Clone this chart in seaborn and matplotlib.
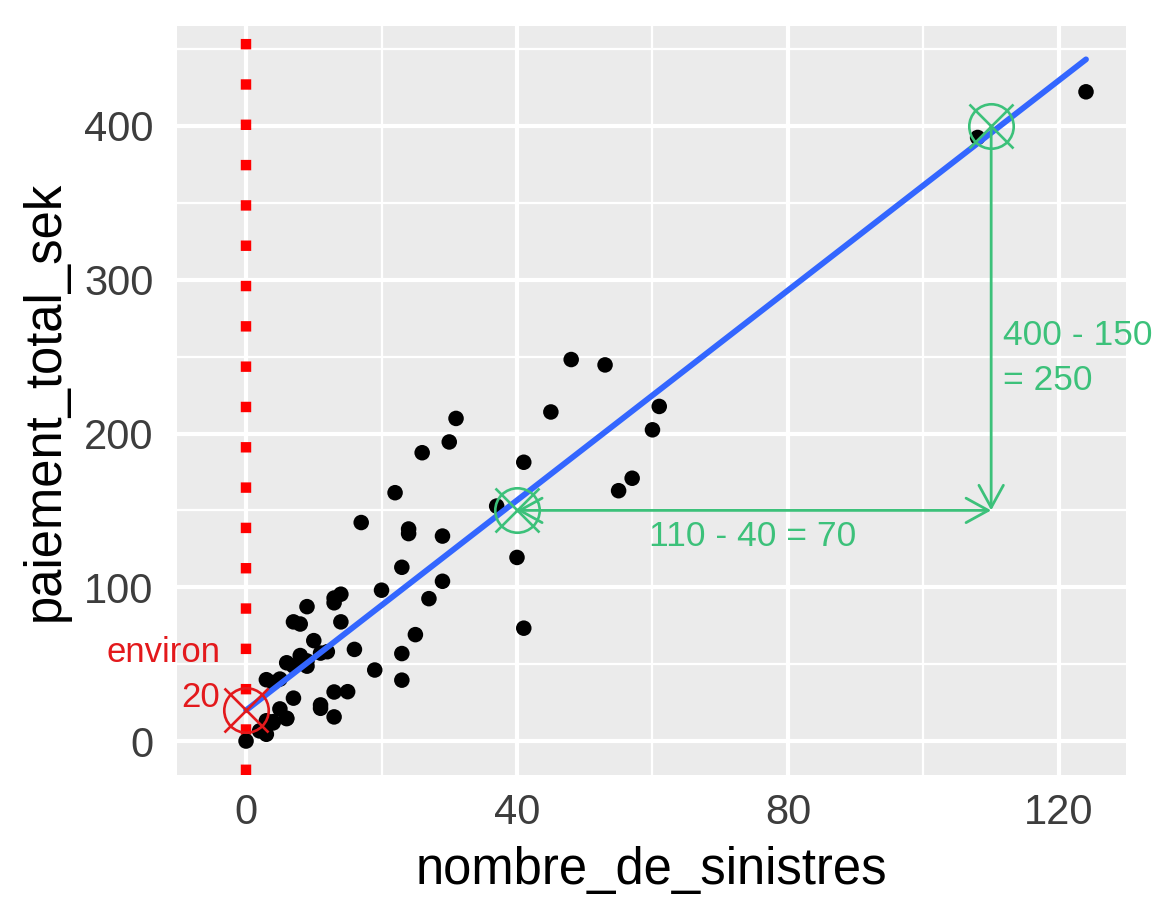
import numpy as np
import pandas as pd
import seaborn as sns
import matplotlib.pyplot as plt
from matplotlib.ticker import MultipleLocator

# Swedish auto insurance data (claims vs total payment, kSEK)
nombre_de_sinistres = [108, 19, 13, 124, 40, 57, 23, 14, 45, 10, 5, 48, 11, 23, 7, 2, 24, 6, 3, 23,
                       6, 9, 9, 3, 29, 7, 4, 20, 7, 4, 0, 25, 6, 5, 22, 11, 61, 12, 4, 16, 13, 60,
                       41, 37, 55, 41, 11, 27, 8, 3, 17, 13, 13, 15, 8, 29, 30, 24, 9, 31, 14, 53, 26]
paiement_total_sek = [392.5, 46.2, 15.7, 422.2, 119.4, 170.9, 56.9, 77.5, 214.0, 65.3, 20.9, 248.1,
                      23.5, 39.6, 48.8, 6.6, 134.9, 50.9, 4.4, 113.0, 14.8, 48.7, 52.1, 13.2, 103.9,
                      77.5, 11.8, 98.1, 27.9, 38.1, 0.0, 69.2, 14.6, 40.3, 161.5, 57.2, 217.6, 58.1,
                      12.6, 59.6, 89.9, 202.4, 181.3, 152.8, 162.8, 73.4, 21.3, 92.6, 76.1, 39.9,
                      142.1, 93.0, 31.9, 32.1, 55.6, 133.3, 194.5, 137.9, 87.4, 209.8, 95.5, 244.6, 187.5]

df = pd.DataFrame({'nombre_de_sinistres': nombre_de_sinistres,
                   'paiement_total_sek': paiement_total_sek})

# annotation points
red_pt = (0, 20)
green_pts_x = [40, 110]
green_pts_y = [150, 400]

red = '#E3191C'
green = '#3CC17A'

sns.set_theme(style='darkgrid', rc={'axes.facecolor': '#EBEBEB',
                                    'grid.color': 'white'})
plt.rcParams['font.family'] = ['Liberation Sans', 'DejaVu Sans']

fig = plt.figure(figsize=(11.52, 9.22), dpi=100)
ax = fig.add_axes([0.1536, 0.1594, 0.8238, 0.8124])

ax.axvline(0, color='red', lw=7.5, linestyle=(0, (1, 2.87)), zorder=2)

sns.scatterplot(data=df, x='nombre_de_sinistres', y='paiement_total_sek', color='black',
                s=125, edgecolor='none', ax=ax, zorder=3)
sns.regplot(data=df, x='nombre_de_sinistres', y='paiement_total_sek', scatter=False, ci=None,
            color='#3366FF', line_kws={'lw': 4.2, 'zorder': 4}, ax=ax)

# circled crosses
ax.plot(red_pt[0], red_pt[1], marker='o', ms=32, mfc='none', mec=red, mew=1.9, zorder=5)
ax.plot(red_pt[0], red_pt[1], marker='x', ms=32, mec=red, mew=1.9, zorder=5)
ax.plot(green_pts_x, green_pts_y, marker='o', ms=32, mfc='none', mec=green, mew=1.9,
        linestyle='none', zorder=5)
ax.plot(green_pts_x, green_pts_y, marker='x', ms=32, mec=green, mew=1.9,
        linestyle='none', zorder=5)

# arrows
ax.annotate('', xy=(110, 150), xytext=(110, 400),
            arrowprops=dict(arrowstyle='->,head_length=0.4,head_width=0.22', color=green, lw=2.0,
                            mutation_scale=40, shrinkA=0, shrinkB=0), zorder=5)
ax.annotate('', xy=(40, 150), xytext=(110, 150),
            arrowprops=dict(arrowstyle='<->,head_length=0.4,head_width=0.22', color=green, lw=2.0,
                            mutation_scale=40, shrinkA=0, shrinkB=0), zorder=5)

ax.text(74.8, 132.7, '110 - 40 = 70', color=green, fontsize=25.5, ha='center', va='center')
ax.text(111.7, 249, '400 - 150\n= 250', color=green, fontsize=25.5, ha='left', va='center',
        linespacing=1.45)
ax.text(-3.8, 43, 'environ\n20', color=red, fontsize=25, ha='right', va='center',
        multialignment='right', linespacing=1.45)

ax.set_xlim(-10.2, 129.9)
ax.set_ylim(-22.1, 465)
ax.set_xticks([0, 40, 80, 120])
ax.set_yticks([0, 100, 200, 300, 400])
ax.xaxis.set_minor_locator(MultipleLocator(20))
ax.yaxis.set_minor_locator(MultipleLocator(50))
ax.grid(which='major', color='white', lw=3.0)
ax.grid(which='minor', color='white', lw=1.6)
ax.tick_params(which='minor', length=0)
ax.tick_params(which='major', length=7, width=2.2, color='#333333', labelsize=30,
               labelcolor='#3D3D3D')
ax.tick_params(axis='x', pad=6)
ax.tick_params(axis='y', pad=10)
ax.set_axisbelow(True)
for s in ax.spines.values():
    s.set_visible(False)

ax.set_xlabel('nombre_de_sinistres', fontsize=36.5, color='black', labelpad=9)
ax.set_ylabel('paiement_total_sek', fontsize=36.5, color='black', labelpad=10)

fig.savefig('out.png', dpi=100)
